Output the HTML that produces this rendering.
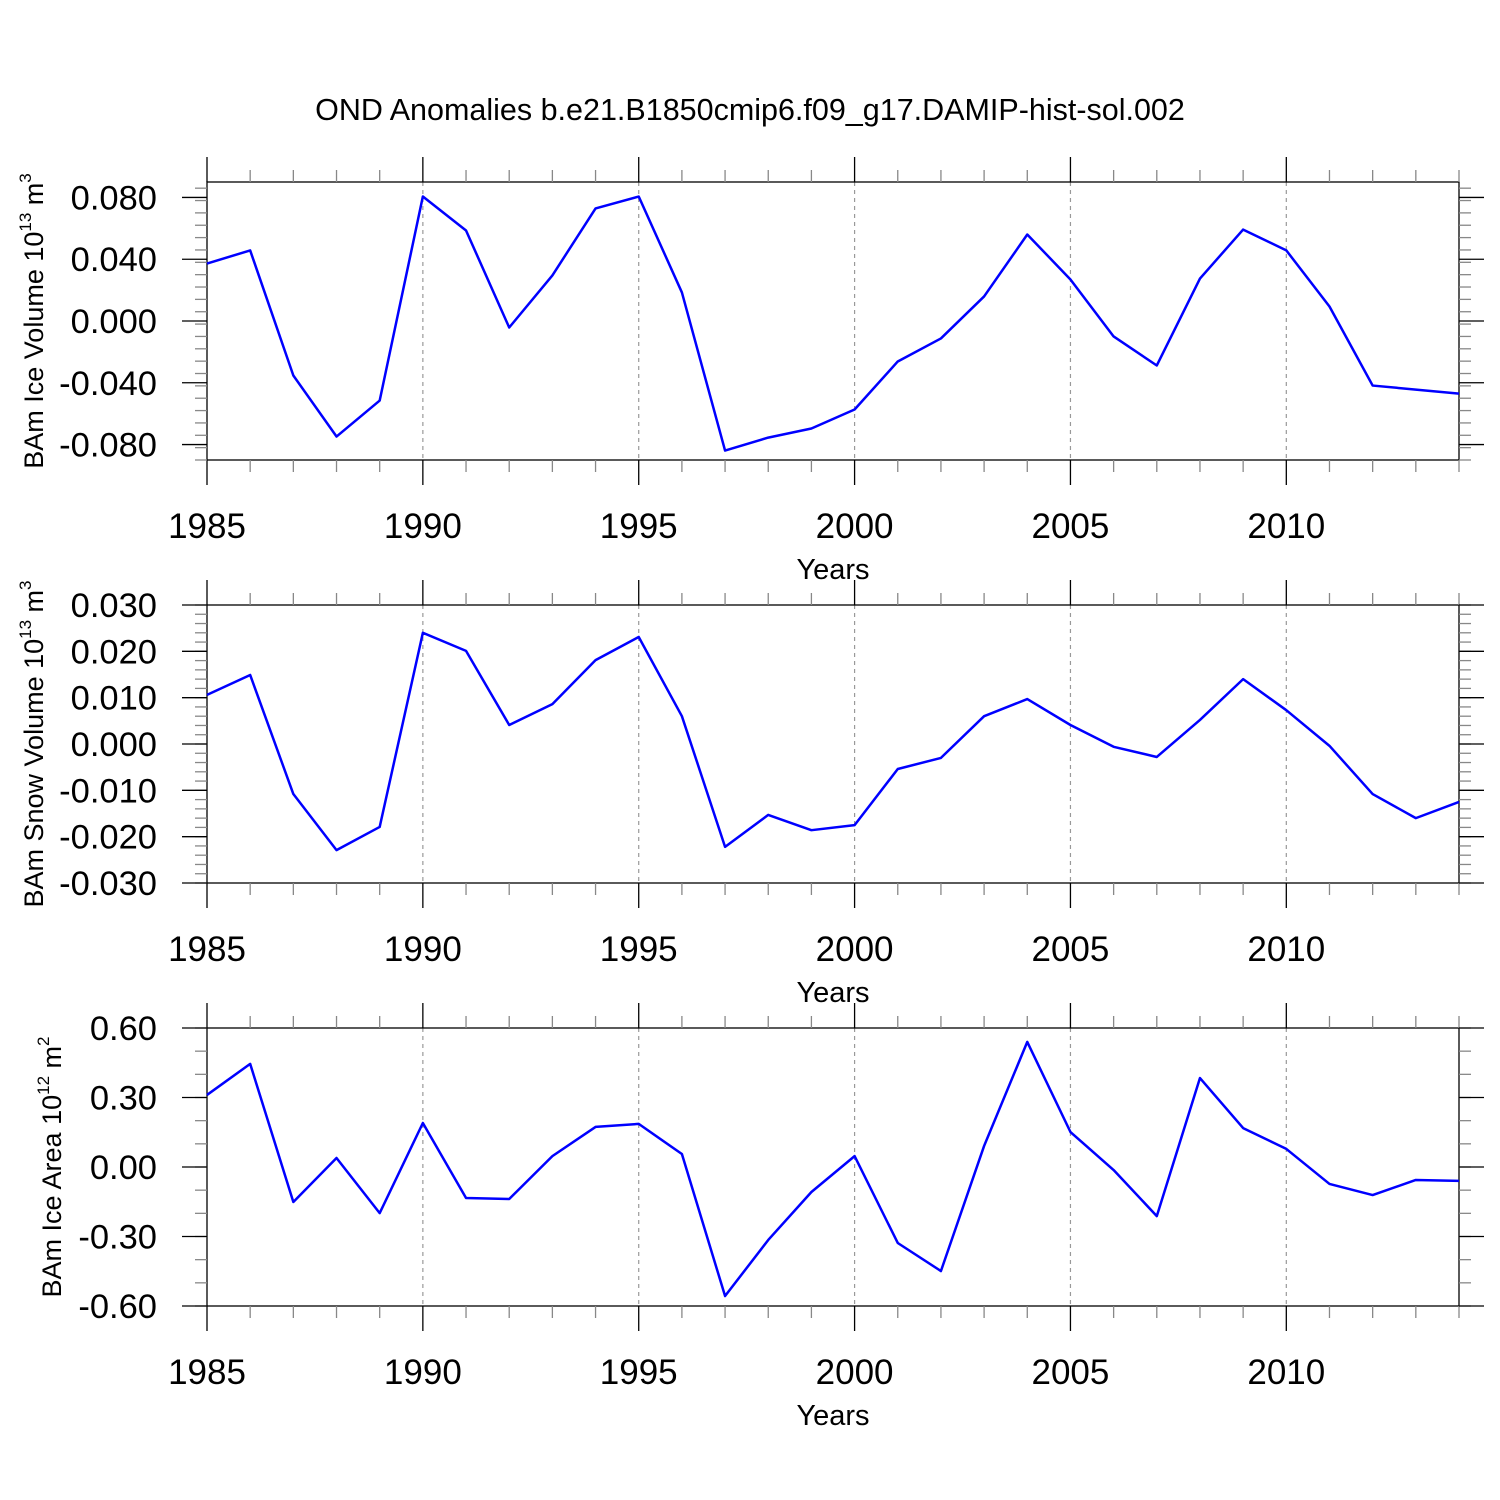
<!DOCTYPE html>
<html><head><meta charset="utf-8"><style>
html,body{margin:0;padding:0;background:#fff;}
svg{display:block;font-family:"Liberation Sans",Arial,sans-serif;}
</style></head><body>
<svg id="chart" width="1500" height="1500" viewBox="0 0 1500 1500" xmlns="http://www.w3.org/2000/svg">
<text x="750" y="120" text-anchor="middle" font-size="30.5">OND Anomalies b.e21.B1850cmip6.f09_g17.DAMIP-hist-sol.002</text>
</svg>
<script>
const years = [1985,1986,1987,1988,1989,1990,1991,1992,1993,1994,1995,1996,1997,1998,1999,2000,2001,2002,2003,2004,2005,2006,2007,2008,2009,2010,2011,2012,2013,2014];
const iceVolume = [0.0372,0.0457,-0.0353,-0.0748,-0.0515,0.0806,0.0586,-0.0042,0.0295,0.0729,0.0806,0.0185,-0.0839,-0.0755,-0.0696,-0.0573,-0.0262,-0.0113,0.0159,0.056,0.0269,-0.010,-0.0288,0.0275,0.0592,0.0457,0.0094,-0.0418,-0.0444,-0.047];
const snowVolume = [0.0106,0.0149,-0.0108,-0.0229,-0.0179,0.024,0.0201,0.0041,0.0086,0.0181,0.0231,0.006,-0.0222,-0.0153,-0.0186,-0.0175,-0.0054,-0.003,0.006,0.0097,0.0041,-0.0006,-0.0028,0.0052,0.014,0.0073,-0.0004,-0.0108,-0.016,-0.0125];
const iceArea = [0.311,0.445,-0.151,0.039,-0.199,0.19,-0.134,-0.138,0.047,0.173,0.186,0.056,-0.557,-0.315,-0.108,0.047,-0.328,-0.449,0.091,0.54,0.151,-0.013,-0.212,0.384,0.168,0.078,-0.073,-0.121,-0.056,-0.06];
const xTickLabels = [1985,1990,1995,2000,2005,2010];
const iceVolTicks = [0.08,0.04,0,-0.04,-0.08];
const snowVolTicks = [0.03,0.02,0.01,0,-0.01,-0.02,-0.03];
const iceAreaTicks = [0.6,0.3,0,-0.3,-0.6];

const svg = document.getElementById('chart');
const NS = 'http://www.w3.org/2000/svg';
function mk(tag, attrs, parent){const e=document.createElementNS(NS,tag);for(const k in attrs)e.setAttribute(k,attrs[k]);(parent||svg).appendChild(e);return e;}

const X0=207, X1=1459;
function xs(yr){return X0+(yr-1985)*(X1-X0)/29;}

function panel(cfg){
  const g=mk('g',{});
  
  
  const top=cfg.top, bot=cfg.top+278;
  const ys=v=>top+(cfg.ymax-v)/(cfg.ymax-cfg.ymin)*(bot-top);
  for(let yr=1990;yr<=2010;yr+=5){
    const l=mk('line',{x1:xs(yr),x2:xs(yr),y1:top,y2:bot,stroke:'#999','stroke-width':1.2,'stroke-dasharray':'4,4'},g);
    
    
  }
  const fr=mk('rect',{x:X0,y:top,width:X1-X0,height:bot-top,fill:'none',stroke:'#000','stroke-width':1.3},g);
  
  
  for(let yr=1985;yr<=2014;yr++){
    const major=(yr%5===0);
    const len=major?25:12;
    mk('line',{x1:xs(yr),x2:xs(yr),y1:top,y2:top-len,stroke:major?'#000':'#888','stroke-width':1.3},g);
    mk('line',{x1:xs(yr),x2:xs(yr),y1:bot,y2:bot+len,stroke:major?'#000':'#888','stroke-width':1.3},g);
  }
  xTickLabels.forEach(yr=>{
    const t=mk('text',{x:xs(yr),y:bot+78,'text-anchor':'middle','font-size':35},g);
    t.textContent=yr;
    
    
  });
  const xt=mk('text',{x:833,y:bot+119,'text-anchor':'middle','font-size':29},g);
  xt.textContent='Years';
  
  
  for(let v=cfg.ymin; v<=cfg.ymax+1e-9; v+=cfg.minor){
    const y=ys(v);
    mk('line',{x1:X0,x2:X0-12,y1:y,y2:y,stroke:'#888','stroke-width':1.3},g);
    mk('line',{x1:X1,x2:X1+12,y1:y,y2:y,stroke:'#888','stroke-width':1.3},g);
  }
  cfg.ticks.forEach(v=>{
    const y=ys(v);
    mk('line',{x1:X0,x2:X0-25,y1:y,y2:y,stroke:'#000','stroke-width':1.3},g);
    mk('line',{x1:X1,x2:X1+25,y1:y,y2:y,stroke:'#000','stroke-width':1.3},g);
    const t=mk('text',{x:157,y:y+12,'text-anchor':'end','font-size':34.5},g);
    t.textContent=v.toFixed(cfg.dec);
    
    
  });
  const cy=(top+bot)/2;
  const yt=mk('text',{x:0,y:0,'text-anchor':'middle','font-size':27,transform:`translate(${cfg.titleX},${cy}) rotate(-90)`},g);
  yt.innerHTML=cfg.title+' 10<tspan dy="-12" font-size="17">'+cfg.exp+'</tspan><tspan dy="12"> m</tspan><tspan dy="-12" font-size="17">'+cfg.unit+'</tspan>';
  
  
  const pts=years.map((yr,i)=>xs(yr)+','+ys(cfg.data[i])).join(' ');
  const pl=mk('polyline',{points:pts,fill:'none',stroke:'#0000ff','stroke-width':2.5,'stroke-linejoin':'round'},g);
  
  
}
panel({name:'ice-volume-panel',top:182,ymin:-0.09,ymax:0.09,minor:0.008,ticks:iceVolTicks,dec:3,data:iceVolume,title:'BAm Ice Volume',exp:'13',unit:'3',titleX:43});
panel({name:'snow-volume-panel',top:605,ymin:-0.03,ymax:0.03,minor:0.002,ticks:snowVolTicks,dec:3,data:snowVolume,title:'BAm Snow Volume',exp:'13',unit:'3',titleX:43});
panel({name:'ice-area-panel',top:1028,ymin:-0.6,ymax:0.6,minor:0.1,ticks:iceAreaTicks,dec:2,data:iceArea,title:'BAm Ice Area',exp:'12',unit:'2',titleX:61});
</script>
</body></html>
